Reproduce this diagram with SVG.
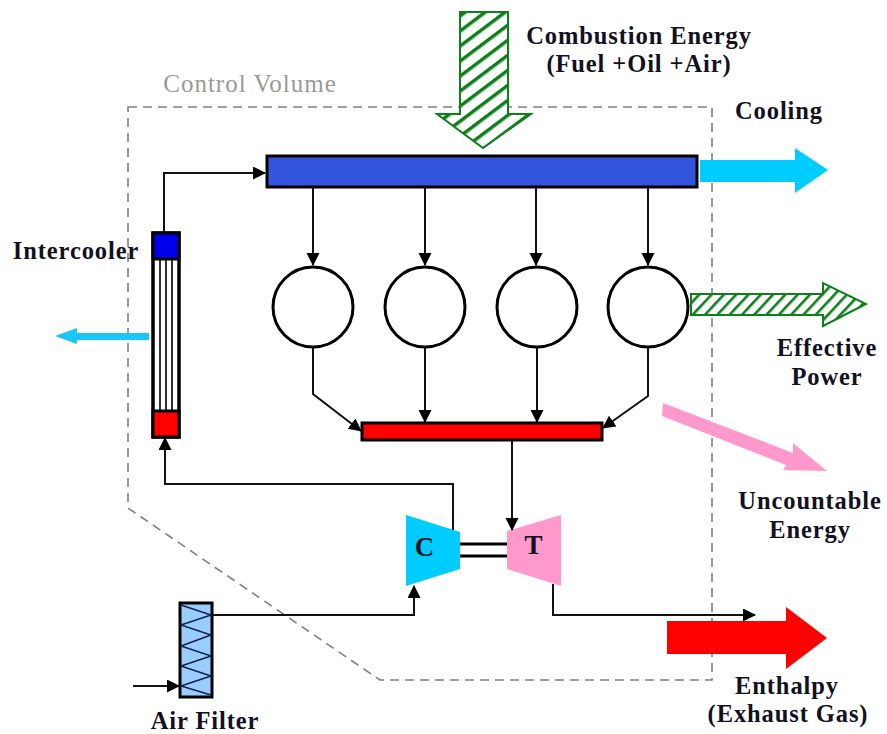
<svg xmlns="http://www.w3.org/2000/svg" width="887" height="734" viewBox="0 0 887 734">
<style>
.t{font-family:"Liberation Serif","Times New Roman",serif;font-weight:bold;font-size:24.500px;letter-spacing:.9px;fill:#111122;text-anchor:middle}
.ln{fill:none;stroke:#111;stroke-width:2}
.cyl{fill:#fff;stroke:#000;stroke-width:3}
.hatch{fill:url(#h);stroke:#0f7f1c;stroke-width:2}
.hatch2{fill:url(#h2);stroke:#0f7f1c;stroke-width:2}
</style>
<defs>
<marker id="a" markerUnits="userSpaceOnUse" markerWidth="14" markerHeight="14" refX="12" refY="6.5" orient="auto"><path d="M0 0L13 6.500L0 13Z" fill="#000"/></marker>
<pattern id="h" width="12" height="12" patternUnits="userSpaceOnUse" patternTransform="rotate(-37)"><rect width="12" height="12" fill="#fff"/><rect y="0" width="12" height="3.500" fill="#0f7f1c"/></pattern>
<pattern id="h2" width="9" height="9" patternUnits="userSpaceOnUse" patternTransform="rotate(-47)"><rect width="9" height="9" fill="#fff"/><rect y="0" width="9" height="2.600" fill="#0f7f1c"/></pattern>
</defs>
<g id="control-volume"><path d="M128 107H712V680H380L128 508Z" fill="none" stroke="#808080" stroke-width="1.600" stroke-dasharray="9 6"/></g>
<g id="combustion-arrow"><path class="hatch" d="M460 12H508V114H531L483 148L437 114H460Z"/></g>
<g id="cooling-arrow"><path d="M700 160H795V148L828 170L795 193V182H700Z" fill="#00ccff"/></g>
<g id="power-arrow"><path class="hatch2" d="M691 294H823V283L866 304L823 326V315H691Z"/></g>
<g id="uncountable-arrow"><path d="M663 403L793 453V443L827 471L783 470L786 465L662 416Z" fill="#ff99cc"/></g>
<g id="enthalpy-arrow"><path d="M667 621H786V607L827 638L786 669V654H667Z" fill="#ff0000"/></g>
<g id="intercooler-arrow"><path d="M149 333H77V328L55 336L77 344V340H149Z" fill="#19c6f5"/></g>
<g id="intake-manifold"><rect x="267" y="156" width="430" height="31" fill="#3355dd" stroke="#000" stroke-width="3"/></g>
<g id="exhaust-manifold"><rect x="362" y="423" width="240" height="17" fill="#ff0000" stroke="#000" stroke-width="3"/></g>
<g id="cylinder-1"><circle class="cyl" cx="313" cy="307" r="40"/></g>
<g id="cylinder-2"><circle class="cyl" cx="425" cy="307" r="40"/></g>
<g id="cylinder-3"><circle class="cyl" cx="537" cy="307" r="40"/></g>
<g id="cylinder-4"><circle class="cyl" cx="648" cy="307" r="40"/></g>
<g id="intercooler">
<rect x="153" y="233" width="26" height="204" fill="#fff" stroke="#000" stroke-width="3.500"/>
<path d="M160 259V411M166 259V411M172 259V411" stroke="#000" stroke-width="1.600"/>
<rect x="153" y="233" width="26" height="26" fill="#0000ee" stroke="#000" stroke-width="3"/>
<rect x="153" y="411" width="26" height="26" fill="#ff0000" stroke="#000" stroke-width="3"/>
</g>
<g id="air-filter">
<rect x="180" y="603" width="32" height="94" fill="#99ccff" stroke="#000" stroke-width="3"/>
<path d="M181 605L211 615L181 625L211 635L181 646L211 656L181 666L211 676L181 686L211 695" fill="none" stroke="#112244" stroke-width="1.500"/>
</g>
<g id="compressor"><path d="M406 515L460 532V569L406 586Z" fill="#00ccff"/><text class="t" x="425" y="556" style="font-size:27px">C</text></g>
<g id="turbine"><path d="M507 531L561 515V586L507 569Z" fill="#ff99cc"/><text class="t" x="534" y="554" style="font-size:27px">T</text></g>
<g id="connectors">
<path class="ln" d="M164 233V173H265" marker-end="url(#a)"/>
<path class="ln" d="M313 187V265" marker-end="url(#a)"/>
<path class="ln" d="M425 187V265" marker-end="url(#a)"/>
<path class="ln" d="M536 187V265" marker-end="url(#a)"/>
<path class="ln" d="M648 187V265" marker-end="url(#a)"/>
<path class="ln" d="M313 347V394L361 431" marker-end="url(#a)"/>
<path class="ln" d="M425 347V422" marker-end="url(#a)"/>
<path class="ln" d="M537 347V422" marker-end="url(#a)"/>
<path class="ln" d="M648 347V396L603 428" marker-end="url(#a)"/>
<path class="ln" d="M512 440V530" marker-end="url(#a)"/>
<path class="ln" d="M453 530V484H165V438" marker-end="url(#a)"/>
<path class="ln" d="M212 615H414V586" marker-end="url(#a)"/>
<path class="ln" d="M553 584V615H755" marker-end="url(#a)"/>
<path class="ln" d="M133 686H179" marker-end="url(#a)"/>
<path d="M460 544H507M460 556H507" fill="none" stroke="#000" stroke-width="3"/>
</g>
<g id="labels">
<text class="t" x="639" y="44">Combustion Energy</text>
<text class="t" x="639" y="72">(Fuel +Oil +Air)</text>
<text x="250" y="92" style="font-family:'Liberation Serif',serif;font-size:25px;letter-spacing:1px;fill:#999;text-anchor:middle">Control Volume</text>
<text class="t" x="779" y="119">Cooling</text>
<text class="t" x="76" y="259">Intercooler</text>
<text class="t" x="827" y="356">Effective</text>
<text class="t" x="827" y="385">Power</text>
<text class="t" x="810" y="509">Uncountable</text>
<text class="t" x="810" y="538">Energy</text>
<text class="t" x="787" y="694">Enthalpy</text>
<text class="t" x="788" y="722">(Exhaust Gas)</text>
<text class="t" x="205" y="729">Air Filter</text>
</g>
</svg>
